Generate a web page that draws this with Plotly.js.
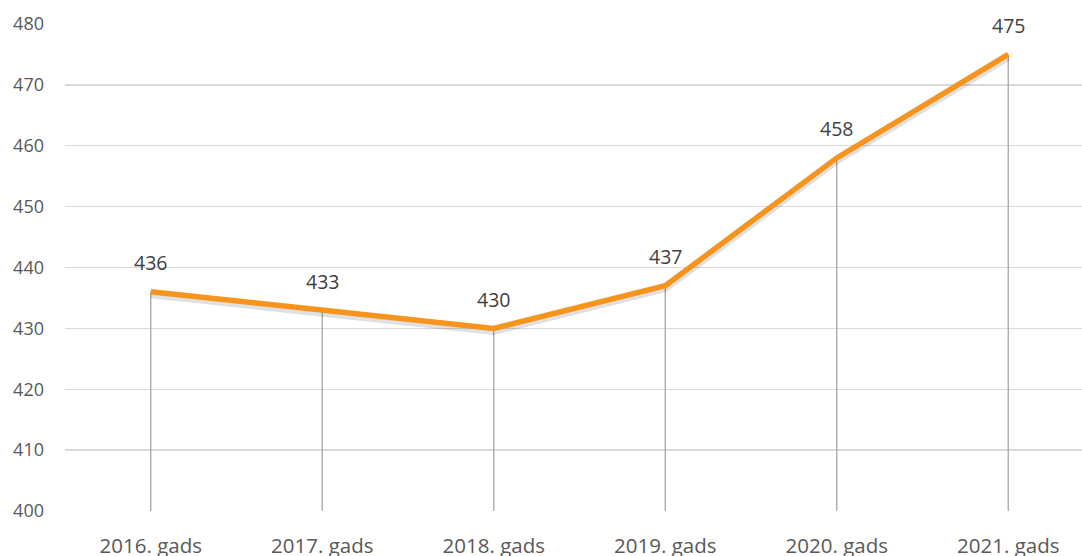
<!DOCTYPE html>
<html>
<head>
<meta charset="utf-8">
<script src="https://cdn.plot.ly/plotly-3.0.1.min.js"></script>
<style>html,body{margin:0;padding:0;background:#fff;}#chart{width:1082px;height:556px;}</style>
</head>
<body>
<div id="chart"></div>
<script>
const categories = ["2016. gads","2017. gads","2018. gads","2019. gads","2020. gads","2021. gads"];
const values = [436, 433, 430, 437, 458, 475];
const yTicks = [400,410,420,430,440,450,460,470,480];
const baseline = 400;

const dropTrace = {
  x: categories, y: values, type: 'scatter', mode: 'markers',
  marker: {size: 1, opacity: 0},
  error_y: {type: 'data', symmetric: false, array: values.map(() => 0),
    arrayminus: values.map(v => v - baseline), width: 0, thickness: 1.3, color: '#a6a6a6'},
  hoverinfo: 'skip', showlegend: false
};
const shadowTrace = {
  x: categories, y: values.map(v => v - 0.5), type: 'scatter', mode: 'lines',
  line: {color: 'rgba(0,0,0,0.12)', width: 7}, hoverinfo: 'skip', showlegend: false
};
const lineTrace = {
  x: categories, y: values, type: 'scatter', mode: 'lines',
  line: {color: '#F7941D', width: 5.5}, showlegend: false
};

const annotations = categories.map((c, i) => ({
  x: c, y: values[i], text: String(values[i]), showarrow: false,
  yshift: 29, font: {family: 'Open Sans, Noto Sans, sans-serif', size: 19.5, color: '#404040'}
}));

const layout = {
  width: 1082, height: 556,
  margin: {l: 65, r: 0, t: 24, b: 45},
  paper_bgcolor: '#fff', plot_bgcolor: '#fff',
  font: {family: 'Open Sans, Noto Sans, sans-serif', color: '#595959'},
  xaxis: {type: 'category', range: [-0.5, 5.43], showgrid: false, zeroline: false,
    showline: false, ticks: '', tickfont: {size: 20.5, color: '#595959'}, ticklabelstandoff: 20},
  yaxis: {range: [baseline, 480], tickvals: yTicks, showgrid: true, gridcolor: '#d9d9d9',
    gridwidth: 1.3, zeroline: false, showline: false, ticks: '',
    tickfont: {size: 18, color: '#595959'}, ticklabelstandoff: 20},
  annotations: annotations
};

Plotly.newPlot('chart', [dropTrace, shadowTrace, lineTrace], layout, {displayModeBar: false, staticPlot: true});
</script>
</body>
</html>
